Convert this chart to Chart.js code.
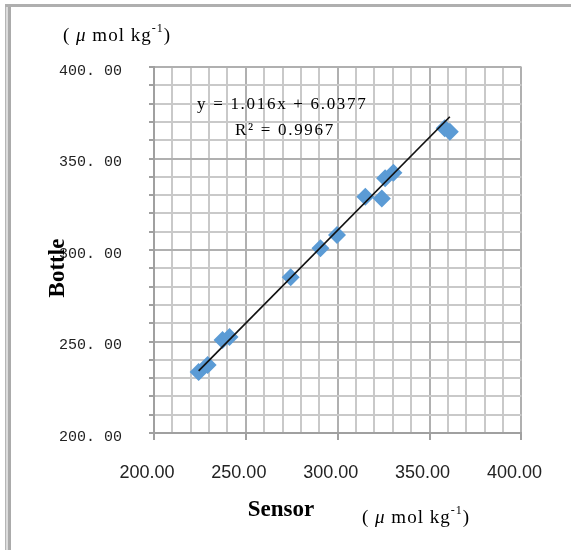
<!DOCTYPE html>
<html>
<head>
<meta charset="utf-8">
<title>Bottle vs Sensor</title>
<script src="https://cdn.jsdelivr.net/npm/chart.js@4.4.1/dist/chart.umd.min.js"></script>
<style>
  html, body { margin: 0; padding: 0; background: #fff; }
  #wrap { position: relative; width: 571px; height: 550px; overflow: hidden; background: #fff; }
  #edge-left { position: absolute; left: 5px; top: 4px; width: 6px; bottom: 0;
    background: linear-gradient(to right, #b5b5b5 0 1px, #dcdcdc 1px 3px, #ababab 3px 6px); }
  #edge-top { position: absolute; left: 5px; top: 4px; right: 0; height: 3px; background: #afafaf; }
  canvas { position: absolute; left: 0; top: 0; }
</style>
</head>
<body>
<div id="wrap">
  <div id="edge-left"></div>
  <div id="edge-top"></div>
  <canvas id="scatter" width="571" height="550"></canvas>
</div>
<script>
// sensor vs bottle readings, umol/kg
const sensor = [224.3, 229.2, 237.3, 241.1, 274.4, 290.6, 299.6, 315.0, 324.0, 325.8, 330.3, 358.2, 361.0]
const bottle = [233.3, 237.2, 250.8, 252.5, 285.1, 300.9, 308.2, 329.1, 328.2, 339.2, 342.2, 366.5, 364.6]

// linear fit as reported on the chart
const slope = 1.016
const intercept = 6.0377
const rSquared = 0.9967

const xTickValues = [200, 250, 300, 350, 400]
const xTickLabels = ['200.00', '250.00', '300.00', '350.00', '400.00']
const yTickValues = [200, 250, 300, 350, 400]
const yTickLabels = ['200. 00', '250. 00', '300. 00', '350. 00', '400. 00']

;(() => {
  const points = sensor.map((s, i) => ({ x: s, y: bottle[i] }))
  const xLo = Math.min(...sensor)
  const xHi = Math.max(...sensor)
  const trend = [xLo, xHi].map((v) => ({ x: v, y: slope * v + intercept }))

  const isMajor = (v) => Math.abs(v % 50) < 1e-6
  const gridColor = (ctx) => (ctx.tick && isMajor(ctx.tick.value) ? '#b0b0b0' : '#c9c9c9')

  const serif = '"Liberation Serif", "Times New Roman", serif'

  // "( μ mol kg-1)" with italic mu and superscript
  const drawUnit = (x, left, y) => {
    let cx = left
    x.letterSpacing = '1px'
    const part = (t, font, dy = 0) => {
      x.font = font
      x.fillText(t, cx, y + dy)
      cx += x.measureText(t).width
    }
    part('( ', `19px ${serif}`)
    part('\u03bc', `italic 19px ${serif}`)
    part(' mol kg', `19px ${serif}`)
    part('-1', `12px ${serif}`, -7)
    part(')', `19px ${serif}`)
    x.letterSpacing = '0px'
  }

  const annotate = {
    id: 'annotate',
    afterDraw: (c) => {
      const x = c.ctx
      const a = c.chartArea
      x.save()
      x.fillStyle = '#000'
      x.textBaseline = 'middle'
      x.textAlign = 'left'

      drawUnit(x, a.left - 91, a.top - 31)
      drawUnit(x, a.left + 208, a.bottom + 85)

      // fit equation
      x.font = `17px ${serif}`
      x.letterSpacing = '1.7px'
      x.fillText(`y = ${slope}x + ${intercept}`, a.left + 43, a.top + 38)
      x.fillText(`R\u00b2 = ${rSquared}`, a.left + 81, a.top + 64)
      x.letterSpacing = '0px'

      // axis titles
      x.font = `bold 23px ${serif}`
      x.textAlign = 'center'
      x.fillText('Sensor', a.left + 127, a.bottom + 77)
      x.translate(a.left - 96, a.top + 201)
      x.rotate(-Math.PI / 2)
      x.fillText('Bottle', 0, 0)
      x.restore()
    },
  }

  new Chart(document.getElementById('scatter'), {
    type: 'scatter',
    data: {
      datasets: [
        {
          type: 'line',
          data: trend,
          borderColor: '#111',
          borderWidth: 1.7,
          pointRadius: 0,
          fill: false,
          order: 0,
        },
        {
          data: points,
          backgroundColor: '#5b9bd5',
          borderColor: '#5b9bd5',
          borderWidth: 0,
          pointStyle: 'rectRot',
          pointRadius: 9,
          order: 1,
        },
      ],
    },
    plugins: [annotate],
    options: {
      responsive: false,
      animation: false,
      layout: { padding: { top: 67, right: 47, left: 0, bottom: 0 } },
      plugins: { legend: { display: false }, tooltip: { enabled: false } },
      scales: {
        x: {
          type: 'linear',
          min: 200,
          max: 400,
          afterFit: (s) => { s.height = 117 },
          ticks: {
            stepSize: 10,
            autoSkip: false,
            maxRotation: 0,
            padding: 22,
            labelOffset: -7,
            color: '#222',
            font: { family: '"Liberation Sans", Arial, sans-serif', size: 18 },
            callback: (v) => {
              const i = xTickValues.indexOf(v)
              return i >= 0 ? xTickLabels[i] : ''
            },
          },
          grid: {
            color: gridColor,
            lineWidth: 2,
            tickLength: 7,
            tickColor: (ctx) => (isMajor(ctx.tick.value) ? '#a0a0a0' : 'rgba(0,0,0,0)'),
          },
          border: { color: '#a0a0a0', width: 2 },
        },
        y: {
          type: 'linear',
          min: 200,
          max: 400,
          afterFit: (s) => { s.width = 154 },
          ticks: {
            stepSize: 10,
            autoSkip: false,
            padding: 27,
            labelOffset: 4,
            color: '#222',
            font: { family: '"Liberation Mono", monospace', size: 15 },
            callback: (v) => {
              const i = yTickValues.indexOf(v)
              return i >= 0 ? yTickLabels[i] : ''
            },
          },
          grid: { color: gridColor, lineWidth: 2, tickLength: 5, tickColor: '#a0a0a0' },
          border: { color: '#a0a0a0', width: 2 },
        },
      },
    },
  })
})()
</script>
</body>
</html>
